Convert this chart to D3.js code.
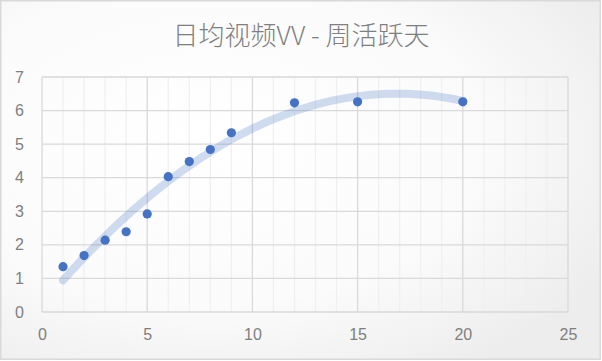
<!DOCTYPE html>
<html>
<head>
<meta charset="utf-8">
<script src="https://cdn.jsdelivr.net/npm/d3@7"></script>
<style>
  html, body { margin: 0; padding: 0; background: #fff; }
  svg { display: block; }
</style>
</head>
<body>
<div id="chart"></div>
<script>
(function () {
    'use strict'

    // data
    var title = '日均视频VV - 周活跃天'
    var activeDays = [1, 2, 3, 4, 5, 6, 7, 8, 9, 12, 15, 20]
    var dailyVV = [1.35, 1.68, 2.14, 2.39, 2.92, 4.03, 4.48, 4.84, 5.34, 6.23, 6.26, 6.26]
    var xTicks = [0, 5, 10, 15, 20, 25]
    var yTicks = [0, 1, 2, 3, 4, 5, 6, 7]

    var W = 602, H = 361
    var margin = { top: 77, right: 34, bottom: 49, left: 42 }
    var width = W - margin.left - margin.right,
        height = H - margin.top - margin.bottom

    var svg = d3.select('#chart').append('svg')
        .attr('width', W)
        .attr('height', H)

    // background, soft radial shading like the office chart style
    var defs = svg.append('defs')
    var grad = defs.append('radialGradient')
        .attr('id', 'bg')
        .attr('cx', '35%').attr('cy', '40%').attr('r', '75%')
    grad.append('stop').attr('offset', '0%').attr('stop-color', '#ffffff')
    grad.append('stop').attr('offset', '60%').attr('stop-color', '#fbfbfb')
    grad.append('stop').attr('offset', '100%').attr('stop-color', '#ededed')

    svg.append('rect')
        .attr('x', 0.75).attr('y', 0.75)
        .attr('width', W - 2.5).attr('height', H - 2.5)
        .attr('fill', 'url(#bg)')
        .attr('stroke', '#d9d9d9')
        .attr('stroke-width', 1.5)

    svg.append('text')
        .attr('x', W / 2)
        .attr('y', 45)
        .attr('text-anchor', 'middle')
        .style('font-family', '"Noto Sans CJK SC", sans-serif')
        .style('font-weight', 300)
        .style('font-size', '26px')
        .style('fill', '#7f7f7f')
        .text(title)

    var x = d3.scaleLinear().domain([0, 25]).range([0, width])
    var y = d3.scaleLinear().domain([0, 7]).range([height, 0])

    var g = svg.append('g')
        .attr('transform', 'translate(' + margin.left + ',' + margin.top + ')')

    // minor vertical grid (every 1)
    g.append('g').selectAll('line')
        .data(d3.range(1, 25).filter(function (d) { return d % 5 !== 0 }))
        .enter().append('line')
        .attr('x1', function (d) { return x(d) }).attr('x2', function (d) { return x(d) })
        .attr('y1', 0).attr('y2', height)
        .attr('stroke', '#f0f0f0')
        .attr('stroke-width', 1.3)

    // major horizontal grid
    g.append('g').selectAll('line')
        .data(yTicks)
        .enter().append('line')
        .attr('x1', 0).attr('x2', width)
        .attr('y1', function (d) { return y(d) }).attr('y2', function (d) { return y(d) })
        .attr('stroke', '#d9d9d9')
        .attr('stroke-width', 1.3)

    // major vertical grid
    g.append('g').selectAll('line')
        .data(xTicks)
        .enter().append('line')
        .attr('x1', function (d) { return x(d) }).attr('x2', function (d) { return x(d) })
        .attr('y1', 0).attr('y2', height)
        .attr('stroke', '#d9d9d9')
        .attr('stroke-width', 1.3)

    // axes (labels only)
    var xAxis = g.append('g')
        .attr('transform', 'translate(0,' + height + ')')
        .call(d3.axisBottom(x).tickValues(xTicks).tickFormat(d3.format('d')).tickSize(0).tickPadding(17))
    var yAxis = g.append('g')
        .call(d3.axisLeft(y).tickValues(yTicks).tickFormat(d3.format('d')).tickSize(0).tickPadding(18))
    ;[xAxis, yAxis].forEach(function (a) {
        a.select('.domain').remove()
        a.selectAll('text')
            .style('font-family', '"Liberation Sans", Arial, sans-serif')
            .style('font-size', '16px')
            .style('fill', '#7f7f7f')
    })

    // polynomial (order 2) trendline fitted to the points, as excel does
    function quadFit(xs, ys) {
        var n = xs.length, s = [0, 0, 0, 0, 0], t = [0, 0, 0]
        for (var i = 0; i < n; i++) {
            var p = 1
            for (var k = 0; k < 5; k++) { s[k] += p; if (k < 3) t[k] += p * ys[i]; p *= xs[i] }
        }
        var A = [[s[0], s[1], s[2], t[0]], [s[1], s[2], s[3], t[1]], [s[2], s[3], s[4], t[2]]]
        for (var c = 0; c < 3; c++) {
            for (var r = c + 1; r < 3; r++) {
                var f = A[r][c] / A[c][c]
                for (var j = c; j < 4; j++) A[r][j] -= f * A[c][j]
            }
        }
        var b = [0, 0, 0]
        for (var r2 = 2; r2 >= 0; r2--) {
            var v = A[r2][3]
            for (var j2 = r2 + 1; j2 < 3; j2++) v -= A[r2][j2] * b[j2]
            b[r2] = v / A[r2][r2]
        }
        return function (v) { return b[0] + b[1] * v + b[2] * v * v }
    }
    var trend = quadFit(activeDays, dailyVV)
    var x0 = d3.min(activeDays), x1 = d3.max(activeDays)
    var trendPts = d3.range(0, 101).map(function (i) { return x0 + (x1 - x0) * i / 100 })

    g.append('path')
        .datum(trendPts)
        .attr('fill', 'none')
        .attr('stroke', '#4472c4')
        .attr('stroke-opacity', 0.25)
        .attr('stroke-width', 8)
        .attr('stroke-linecap', 'round')
        .attr('d', d3.line()
            .x(function (d) { return x(d) })
            .y(function (d) { return y(trend(d)) }))

    g.append('g').selectAll('circle')
        .data(activeDays)
        .enter().append('circle')
        .attr('cx', function (d) { return x(d) })
        .attr('cy', function (d, i) { return y(dailyVV[i]) })
        .attr('r', 4.6)
        .attr('fill', '#4472c4')
})()
</script>
</body>
</html>
